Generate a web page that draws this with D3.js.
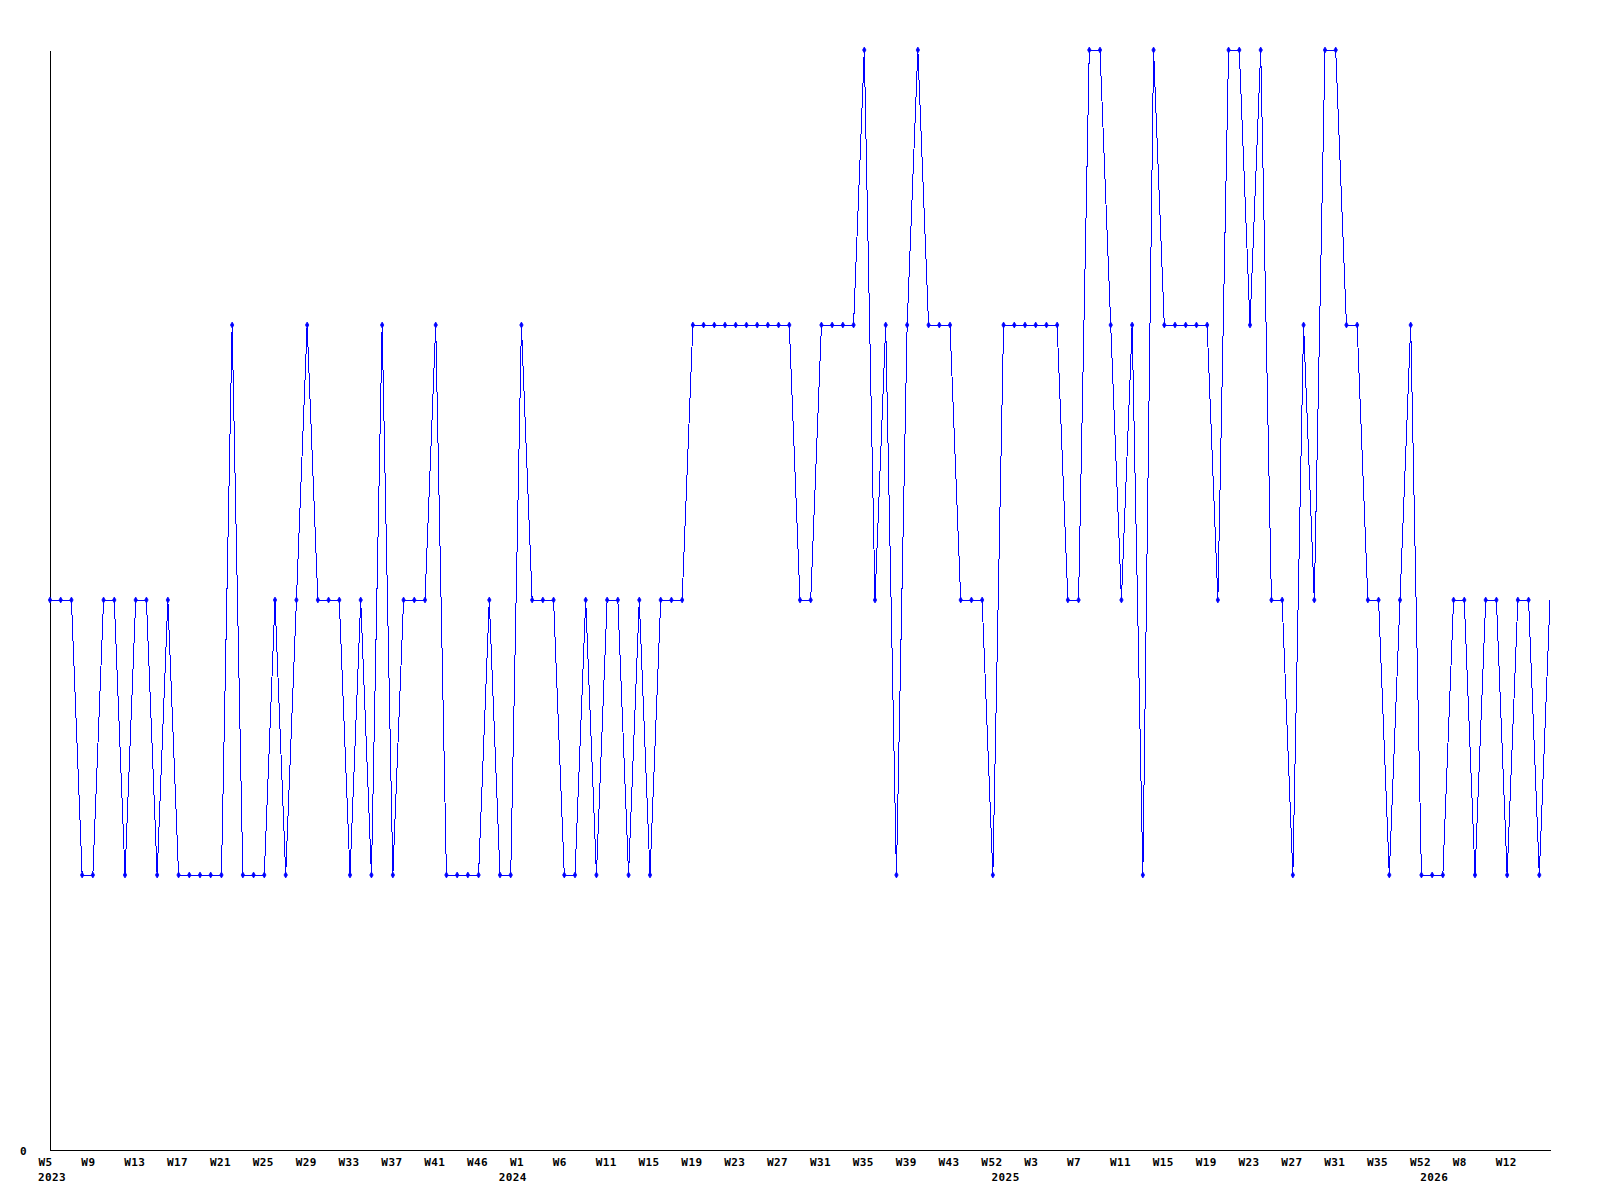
<!DOCTYPE html>
<html>
<head>
<meta charset="utf-8">
<script src="https://cdn.jsdelivr.net/npm/d3@7"></script>
<style>
  body { margin: 0; background: #fff; }
  text { font-family: "DejaVu Sans Mono", monospace; font-weight: bold; font-size: 11px; letter-spacing: 0.4px; fill: #000; }
</style>
</head>
<body>
<svg id="chart"></svg>
<script>
// weekly values, one per point
var values = [
  2,2,2,1,1,2,2,1,2,2, 1,2,1,1,1,1,1,3,1,1,
  1,2,1,2,3,2,2,2,1,2, 1,3,1,2,2,2,3,1,1,1,
  1,2,1,1,3,2,2,2,1,1, 2,1,2,2,1,2,1,2,2,2,
  3,3,3,3,3,3,3,3,3,3, 2,2,3,3,3,3,4,2,3,1,
  3,4,3,3,3,2,2,2,1,3, 3,3,3,3,3,2,2,4,4,3,
  2,3,1,4,3,3,3,3,3,2, 4,4,3,4,2,2,1,3,2,4,
  4,3,3,2,2,1,2,3,1,1, 1,2,2,1,2,2,1,2,2,1,
  2
];

// week labels (every 4th point)
var tickIndex = [0,4,8,12,16,20,24,28,32,36,40,44,48,52,56,60,64,68,72,76,80,84,88,92,96,100,104,108,112,116,120,124,128,132,136];
var tickLabels = ["W5","W9","W13","W17","W21","W25","W29","W33","W37","W41","W46","W1","W6","W11","W15","W19","W23","W27","W31","W35","W39","W43","W52","W3","W7","W11","W15","W19","W23","W27","W31","W35","W52","W8","W12"];

// year labels at first point of each year
var yearIndex = [0, 43, 89, 129];
var yearLabels = ["2023", "2024", "2025", "2026"];

var width = 1600,
    height = 1200;

var svg = d3.select("#chart")
    .attr("width", width)
    .attr("height", height);

var x = d3.scaleLinear()
    .domain([0, values.length - 1])
    .range([50, 1550]);

var y = d3.scaleLinear()
    .domain([0, 4])
    .range([1150, 50]);

// x axis with week labels
var xAxis = svg.append("g")
    .attr("transform", "translate(0,1150)")
    .call(d3.axisBottom(x)
      .tickValues(tickIndex)
      .tickFormat(function(d, i) { return tickLabels[i]; })
      .tickSize(0)
      .tickSizeOuter(0));
xAxis.select(".domain").attr("stroke", "#000").attr("shape-rendering", "crispEdges");
xAxis.selectAll("text")
    .attr("x", -12)
    .attr("y", 16)
    .attr("dy", null)
    .style("text-anchor", "start");

// years under the week labels
svg.append("g")
  .selectAll("text")
  .data(yearIndex)
  .enter()
  .append("text")
    .attr("x", function(d) { return x(d) - 12; })
    .attr("y", 1181)
    .text(function(d, i) { return yearLabels[i]; });

// y axis, only 0 is labelled
var yAxis = svg.append("g")
    .attr("transform", "translate(50,0)")
    .call(d3.axisLeft(y)
      .tickValues([0])
      .tickFormat(d3.format("d"))
      .tickSize(0)
      .tickSizeOuter(0));
yAxis.select(".domain").attr("stroke", "#000").attr("shape-rendering", "crispEdges");
yAxis.selectAll("text")
    .attr("x", -30)
    .attr("y", 4)
    .attr("dy", null)
    .style("text-anchor", "start");
svg.selectAll("g").attr("font-family", null).attr("font-size", null);

// the line
var line = d3.line()
    .x(function(d, i) { return x(i); })
    .y(function(d) { return y(d); });

svg.append("path")
    .datum(values)
    .attr("d", line)
    .attr("fill", "none")
    .attr("stroke", "#0000ff")
    .attr("stroke-width", 1)
    .attr("shape-rendering", "crispEdges");

// small markers (last point has none)
svg.append("g")
  .selectAll("path")
  .data(values.slice(0, values.length - 1))
  .enter()
  .append("path")
    .attr("transform", function(d, i) { return "translate(" + x(i) + "," + y(d) + ")"; })
    .attr("d", d3.symbol().type(d3.symbolDiamond).size(10))
    .attr("fill", "#0000ff")
    .attr("stroke", "#0000ff")
    .attr("stroke-width", 0.8);
</script>
</body>
</html>
